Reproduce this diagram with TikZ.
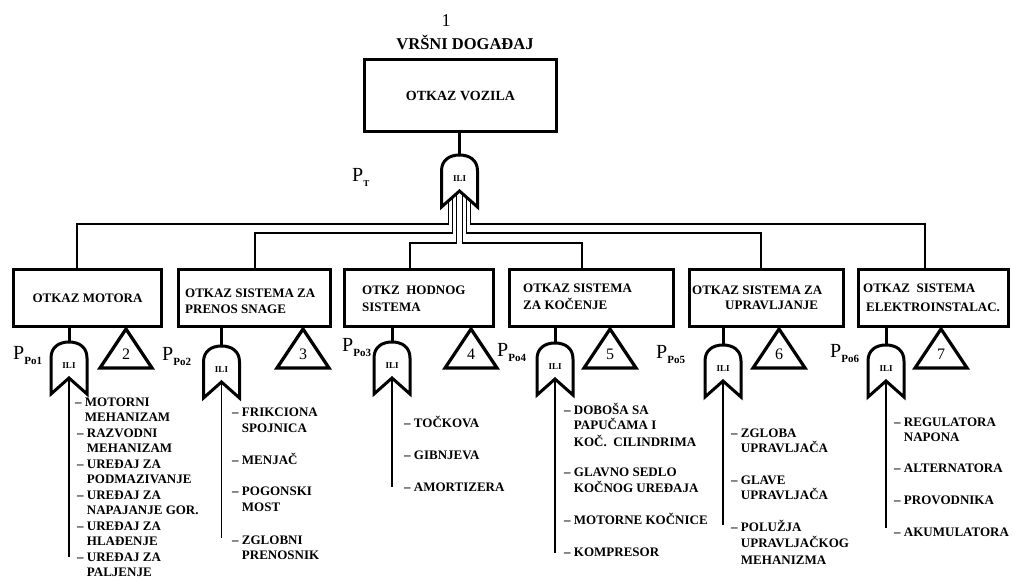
\documentclass[tikz,border=0pt]{standalone}
\usepackage{fontspec}
\setmainfont{Liberation Serif}
\usetikzlibrary{calc}

% indentation for continuation lines of a list item
\newcommand\indt{\phantom{–\ }}
% probability label P with a subscript
\newcommand\plab[1]{{\fontsize{20}{20}\selectfont P}\raisebox{-5pt}{\fontsize{11}{11}\selectfont\bfseries #1}}

\tikzset{
  gateline/.style={line width=3pt},
  triline/.style={line width=3.2pt},
  gatetxt/.style={font=\bfseries\fontsize{9}{9}\selectfont, inner sep=0pt},
  trinum/.style={font=\fontsize{16}{16}\selectfont, inner sep=0pt},
  % OR gate of the fault tree
  pics/orgate/.style={code={
    \draw[gateline] (-18,26) -- (-18,-10) .. controls (-18,-21) and (-10,-26) .. (0,-26)
        .. controls (10,-26) and (18,-21) .. (18,-10) -- (18,26) -- (0,10) -- cycle;
    \node[gatetxt] (-lbl) at (0,-2) {ILI};
    \coordinate (-top) at (0,-26);
    \coordinate (-apex) at (0,10);
  }},
  % transfer triangle with its number
  pics/xfer/.style={code={
    \draw[triline] (0,0) -- (26,39) -- (-26,39) -- cycle;
    \node[trinum] (-num) at (0,25) {#1};
  }}
}

\begin{document}
\begin{tikzpicture}[x=1pt,y=-1pt,
  evbox/.style={draw, line width=3.6pt, inner sep=0pt, minimum height=57pt},
  wire/.style={line width=1.5pt},
  stub/.style={line width=3pt},
  dropwire/.style={line width=1.3pt},
  lbl/.style={anchor=base west, inner sep=0pt, yshift=-4.3pt, font=\bfseries\fontsize{13}{15}\selectfont},
  plbl/.style={anchor=base west, inner sep=0pt, yshift=-6.6pt},
  boxfont/.style={font=\bfseries\fontsize{13}{15}\selectfont}
]
\path[use as bounding box] (0,0) rectangle (1015,578);
\clip (0,0) rectangle (1015,578);

% top event
\node[font=\fontsize{18}{18}\selectfont, inner sep=0pt] (evno) at (446,21) {1};
\node[font=\bfseries\fontsize{16.5}{17}\selectfont, inner sep=0pt] (evtitle) at (465,42) {VRŠNI DOGAĐAJ};
\node[evbox, minimum width=192pt, minimum height=72pt, font=\bfseries\fontsize{14}{14}\selectfont] (top) at (460.5,95.5) {OTKAZ VOZILA};

\pic (g0) at (459.5,181) {orgate};
\draw[stub] (g0-top) -- (g0-top |- top.south);
\node[plbl] (pt) at (352,175) {{\fontsize{20}{20}\selectfont P}\raisebox{-5pt}{\fontsize{9}{9}\selectfont\bfseries T}};

% subsystem events
\node[evbox, minimum width=148pt, boxfont] (b1) at (87.5,298) {OTKAZ MOTORA};
\node[evbox, minimum width=152pt] (b2) at (254.5,298) {};
\node[evbox, minimum width=149pt] (b3) at (419,298) {};
\node[evbox, minimum width=164pt] (b4) at (591.5,298) {};
\node[evbox, minimum width=154pt] (b5) at (766.5,298) {};
\node[evbox, minimum width=150pt] (b6) at (933.5,298) {};

\node[lbl] (b2a) at (185,293) {OTKAZ SISTEMA ZA};
\node[lbl] (b2b) at (185,309) {PRENOS SNAGE};
\node[lbl] (b3a) at (362,290) {OTKZ\ \ HODNOG};
\node[lbl] (b3b) at (362,307) {SISTEMA};
\node[lbl] (b4a) at (523,288) {OTKAZ SISTEMA};
\node[lbl] (b4b) at (523,305) {ZA KOČENJE};
\node[lbl] (b5a) at (692,290) {OTKAZ SISTEMA ZA};
\node[lbl] (b5b) at (725,305) {UPRAVLJANJE};
\node[lbl] (b6a) at (863,288) {OTKAZ\ \ SISTEMA};
\node[lbl] (b6b) at (866,307) {ELEKTROINSTALAC.};

% legs leaving the top gate
\coordinate (l1) at ($(g0-apex)+(-11,9.8)$);
\coordinate (l2) at ($(g0-apex)+(-7,6.2)$);
\coordinate (l3) at ($(g0-apex)+(-3,2.7)$);
\coordinate (l4) at ($(g0-apex)+(3,2.7)$);
\coordinate (l5) at ($(g0-apex)+(7,6.2)$);
\coordinate (l6) at ($(g0-apex)+(11,9.8)$);
\coordinate (j1) at (77,224);
\coordinate (j2) at (255,233);
\coordinate (j3) at (410,243);
\coordinate (j4) at (582,243);
\coordinate (j5) at (761,233);
\coordinate (j6) at (925,224);
\draw[wire] (l1) |- (j1) -- (j1 |- b1.north);
\draw[wire] (l2) |- (j2) -- (j2 |- b2.north);
\draw[wire] (l3) |- (j3) -- (j3 |- b3.north);
\draw[wire] (l4) |- (j4) -- (j4 |- b4.north);
\draw[wire] (l5) |- (j5) -- (j5 |- b5.north);
\draw[wire] (l6) |- (j6) -- (j6 |- b6.north);

% gates below the subsystem events
\pic (g1) at (69,368) {orgate};
\pic (g2) at (221.5,372) {orgate};
\pic (g3) at (392,368) {orgate};
\pic (g4) at (555,369) {orgate};
\pic (g5) at (723,371) {orgate};
\pic (g6) at (886,371) {orgate};
\foreach \i in {1,...,6} {
  \draw[stub] (g\i-top) -- (g\i-top |- b\i.south);
}

% transfer triangles
\pic (t2) at (126,329) {xfer=2};
\pic (t3) at (303,329) {xfer=3};
\pic (t4) at (471,329) {xfer=4};
\pic (t5) at (610,329) {xfer=5};
\pic (t6) at (779,329) {xfer=6};
\pic (t7) at (941,329) {xfer=7};

% probability labels
\node[plbl] (pp1) at (13,353) {\plab{Po1}};
\node[plbl] (pp2) at (162,354) {\plab{Po2}};
\node[plbl] (pp3) at (342,345) {\plab{Po3}};
\node[plbl] (pp4) at (497,350) {\plab{Po4}};
\node[plbl] (pp5) at (656,352) {\plab{Po5}};
\node[plbl] (pp6) at (830,351) {\plab{Po6}};

% input lines of the lower gates
\coordinate (e1) at (69,557);
\coordinate (e2) at (221.5,538);
\coordinate (e3) at (392,487);
\coordinate (e4) at (555,553);
\coordinate (e5) at (723,525);
\coordinate (e6) at (886,528);
\foreach \i in {1,...,6} {
  \draw[dropwire] (g\i-apex) -- (g\i-apex |- e\i);
}

% basic events: engine
\node[lbl] (m1) at (75,402) {– MOTORNI};
\node[lbl] (m2) at (75,417.5) {\indt MEHANIZAM};
\node[lbl] (m3) at (77,433) {– RAZVODNI};
\node[lbl] (m4) at (77,448.5) {\indt MEHANIZAM};
\node[lbl] (m5) at (77,464) {– UREĐAJ ZA};
\node[lbl] (m6) at (77,479.5) {\indt PODMAZIVANJE};
\node[lbl] (m7) at (77,495) {– UREĐAJ ZA};
\node[lbl] (m8) at (77,510.5) {\indt NAPAJANJE GOR.};
\node[lbl] (m9) at (77,526) {– UREĐAJ ZA};
\node[lbl] (m10) at (77,541.5) {\indt HLAĐENJE};
\node[lbl] (m11) at (77,557) {– UREĐAJ ZA};
\node[lbl] (m12) at (77,572.5) {\indt PALJENJE};

% power transmission
\node[lbl] (s1) at (232,412) {– FRIKCIONA};
\node[lbl] (s2) at (232,428) {\indt SPOJNICA};
\node[lbl] (s3) at (232,460) {– MENJAČ};
\node[lbl] (s4) at (232,491) {– POGONSKI};
\node[lbl] (s5) at (232,507) {\indt MOST};
\node[lbl] (s6) at (232,540) {– ZGLOBNI};
\node[lbl] (s7) at (232,555) {\indt PRENOSNIK};

% running gear
\node[lbl] (h1) at (404,423) {– TOČKOVA};
\node[lbl] (h2) at (404,455) {– GIBNJEVA};
\node[lbl] (h3) at (404,487) {– AMORTIZERA};

% brakes
\node[lbl] (k1) at (564,410) {– DOBOŠA SA};
\node[lbl] (k2) at (564,425) {\indt PAPUČAMA I};
\node[lbl] (k3) at (564,442) {\indt KOČ.\ \ CILINDRIMA};
\node[lbl] (k4) at (564,472) {– GLAVNO SEDLO};
\node[lbl] (k5) at (564,488) {\indt KOČNOG UREĐAJA};
\node[lbl] (k6) at (564,520) {– MOTORNE KOČNICE};
\node[lbl] (k7) at (564,552) {– KOMPRESOR};

% steering
\node[lbl] (u1) at (731,433) {– ZGLOBA};
\node[lbl] (u2) at (731,448) {\indt UPRAVLJAČA};
\node[lbl] (u3) at (731,480) {– GLAVE};
\node[lbl] (u4) at (731,495) {\indt UPRAVLJAČA};
\node[lbl] (u5) at (731,527) {– POLUŽJA};
\node[lbl] (u6) at (731,543) {\indt UPRAVLJAČKOG};
\node[lbl] (u7) at (731,560) {\indt MEHANIZMA};

% electrical system
\node[lbl] (r1) at (894,422) {– REGULATORA};
\node[lbl] (r2) at (894,437) {\indt NAPONA};
\node[lbl] (r3) at (894,468) {– ALTERNATORA};
\node[lbl] (r4) at (894,500) {– PROVODNIKA};
\node[lbl] (r5) at (894,532) {– AKUMULATORA};
\end{tikzpicture}
\end{document}
